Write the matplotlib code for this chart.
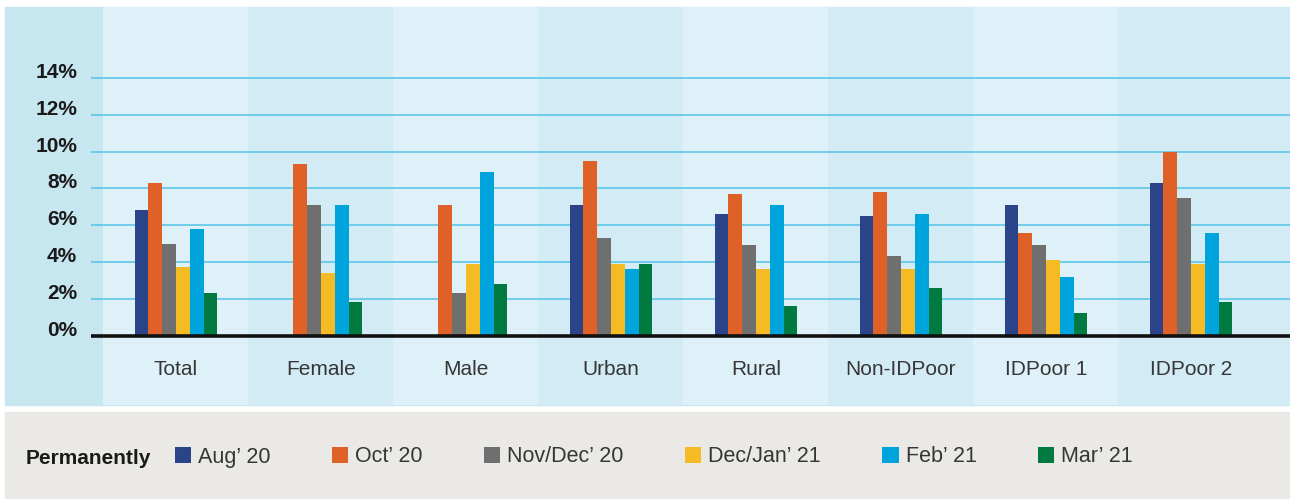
"""Share of respondents who lost work permanently, by group and survey round."""

import numpy as np
import matplotlib.pyplot as plt
from matplotlib.patches import Rectangle

plt.rcParams["font.family"] = ["Liberation Sans", "DejaVu Sans"]

categories = ["Total", "Female", "Male", "Urban", "Rural", "Non-IDPoor", "IDPoor 1", "IDPoor 2"]
rounds = ["Aug’ 20", "Oct’ 20", "Nov/Dec’ 20", "Dec/Jan’ 21", "Feb’ 21", "Mar’ 21"]

aug_20 = [6.8, np.nan, np.nan, 7.1, 6.6, 6.5, 7.1, 8.3]
oct_20 = [8.3, 9.3, 7.1, 9.5, 7.7, 7.8, 5.6, 10.0]
nov_dec_20 = [5.0, 7.1, 2.3, 5.3, 4.9, 4.3, 4.9, 7.5]
dec_jan_21 = [3.7, 3.4, 3.9, 3.9, 3.6, 3.6, 4.1, 3.9]
feb_21 = [5.8, 7.1, 8.9, 3.6, 7.1, 6.6, 3.2, 5.6]
mar_21 = [2.3, 1.8, 2.8, 3.9, 1.6, 2.6, 1.2, 1.8]

y_ticks = [0, 2, 4, 6, 8, 10, 12, 14]
y_tick_labels = ["0%", "2%", "4%", "6%", "8%", "10%", "12%", "14%"]

series = [aug_20, oct_20, nov_dec_20, dec_jan_21, feb_21, mar_21]
colors = ["#2b4388", "#e06127", "#6e6f6e", "#f5bb25", "#00a4dc", "#007a40"]

W, H = 1290, 499
fig = plt.figure(figsize=(W / 100, H / 100), dpi=100)
fig.patch.set_facecolor("white")

# backgrounds: blue chart area and grey legend strip
fig.patches.append(Rectangle((5 / W, 1 - 404.5 / H), 1 - 5 / W, 397.5 / H,
                             transform=fig.transFigure, color="#c6e6f0", zorder=-1))
fig.patches.append(Rectangle((5 / W, 1 - 498 / H), 1 - 5 / W, 86 / H,
                             transform=fig.transFigure, color="#eae9e5", zorder=-1))

ax = fig.add_axes([91 / W, 1 - 404.5 / H, 1 - 91 / W, 397.5 / H])
ax.patch.set_visible(False)
ax.set_xlim(-0.586, 7.683)
ax.set_ylim(-3.75, 17.86)

x = np.arange(len(categories))
for i in x:
    right = i + 0.5 if i < len(categories) - 1 else ax.get_xlim()[1]
    ax.axvspan(i - 0.5, right, color="#dff1f8" if i % 2 == 0 else "#d3ebf4", zorder=0, lw=0)

w = 0.095
bars = []
for j, (vals, c) in enumerate(zip(series, colors)):
    bars.append(ax.bar(x + (j - 2.5) * w, vals, w, color=c, zorder=3, lw=0))

ax.set_yticks(y_ticks)
ax.set_yticklabels(y_tick_labels, fontsize=15, fontweight="bold", color="#1a1a1a")
for lab in ax.get_yticklabels():
    lab.set_verticalalignment("baseline")
ax.grid(axis="y", color="#5cc6e8", lw=1.2, zorder=1)
ax.axhline(0, color="#111111", lw=2.6, zorder=4)

ax.set_xticks(x)
ax.set_xticklabels(categories, fontsize=15, color="#363636")
ax.tick_params(axis="x", length=0, pad=-32)
ax.tick_params(axis="y", length=0, pad=10)
for s in ax.spines.values():
    s.set_visible(False)

fig.text(26 / W, 1 - 463.5 / H, "Permanently", fontsize=15, fontweight="bold",
         color="#1a1a1a", va="baseline")
fig.legend([b[0] for b in bars], rounds, loc="center left",
           bbox_to_anchor=(175 / W, 1 - 457 / H), ncol=6, frameon=False,
           fontsize=15.5, labelcolor="#363636", handlelength=0.75, handleheight=0.78,
           handletextpad=0.33, columnspacing=2.85, borderpad=0, borderaxespad=0)

plt.savefig("out.png", dpi=100)
